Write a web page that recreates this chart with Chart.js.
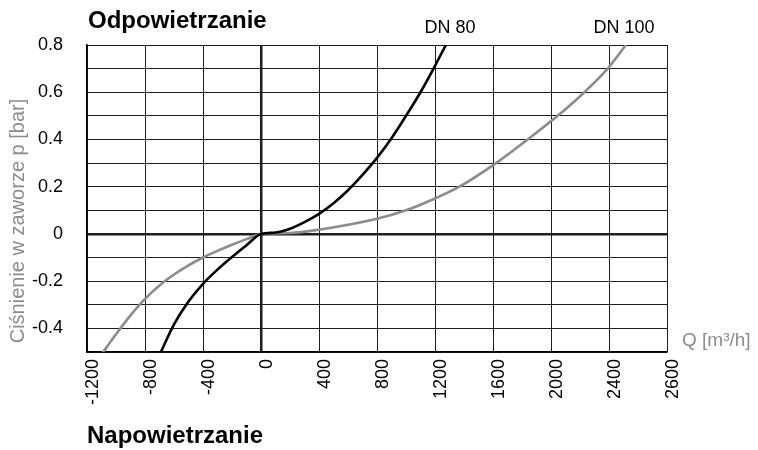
<!DOCTYPE html>
<html lang="pl">
<head>
  <meta charset="UTF-8" />
  <title>Odpowietrzanie / Napowietrzanie</title>
  <script src="https://cdn.jsdelivr.net/npm/chart.js"></script>
  <style>
    html, body { margin: 0; padding: 0; background: #fff; }
    #wykres { display: block; }
  </style>
</head>
<body>
  <canvas id="wykres" width="758" height="450"></canvas>

  <script>
    // Q [m3/h] i ciśnienie [bar]
    const dn80Q = [-700, -600, -500, -400, -300, -200, -100, 0, 100, 200, 300, 400, 500, 600, 700, 800, 900, 1000, 1100, 1200, 1300];
    const dn80P = [-0.513, -0.383, -0.286, -0.211, -0.151, -0.098, -0.048, 0, 0.006, 0.022, 0.05, 0.085, 0.13, 0.185, 0.25, 0.322, 0.405, 0.5, 0.6, 0.712, 0.83];

    const dn100Q = [-1100, -1000, -900, -800, -700, -600, -500, -400, -300, -200, -100, 0, 200, 400, 800, 1000, 1200, 1368, 1621, 1839, 2046, 2230, 2391, 2517];
    const dn100P = [-0.51, -0.425, -0.345, -0.275, -0.218, -0.172, -0.133, -0.1, -0.072, -0.046, -0.022, 0, 0.004, 0.018, 0.064, 0.1, 0.15, 0.2, 0.3, 0.4, 0.5, 0.6, 0.7, 0.8];

    const xTicks = ['-1200', '-800', '-400', '0', '400', '800', '1200', '1600', '2000', '2400', '2600'];
    const yTicks = ['0.8', '0.6', '0.4', '0.2', '0', '-0.2', '-0.4'];

    const rodzina = "'Liberation Sans', Arial, sans-serif";
    Chart.defaults.font.family = rodzina;

    // napisy poza osiami
    const napisy = {
      id: 'napisy',
      afterDraw(chart) {
        const c = chart.ctx;
        c.save();
        c.fillStyle = '#000';
        c.textBaseline = 'alphabetic';
        c.textAlign = 'left';
        c.font = 'bold 24px ' + rodzina;
        c.fillText('Odpowietrzanie', 88, 28);
        c.fillText('Napowietrzanie', 87, 443);

        c.font = '18px ' + rodzina;
        c.textAlign = 'center';
        c.fillText('DN 80', 450, 33);
        c.fillText('DN 100', 624, 33);

        c.fillStyle = '#8c8c8c';
        c.font = '19px ' + rodzina;
        c.textAlign = 'left';
        c.fillText('Q [m³/h]', 682, 346);

        c.translate(18, 221);
        c.rotate(-Math.PI / 2);
        c.textAlign = 'center';
        c.textBaseline = 'middle';
        c.font = '20px ' + rodzina;
        c.fillText('Ciśnienie w zaworze p [bar]', 0, 0);
        c.restore();
      }
    };

    const siatka = {
      color: '#1e1e1e',
      lineWidth: ctx => (ctx.tick && ctx.tick.value === 0 ? 2.5 : 1),
      drawTicks: false
    };

    new Chart(document.getElementById('wykres'), {
      type: 'line',
      data: {
        datasets: [
          {
            label: 'DN 80',
            data: dn80Q.map((q, i) => ({ x: q, y: dn80P[i] })),
            borderColor: '#000',
            borderWidth: 2.6,
            pointRadius: 0,
            cubicInterpolationMode: 'monotone',
            fill: false
          },
          {
            label: 'DN 100',
            data: dn100Q.map((q, i) => ({ x: q, y: dn100P[i] })),
            borderColor: '#8c8c8c',
            borderWidth: 2.6,
            pointRadius: 0,
            cubicInterpolationMode: 'monotone',
            fill: false
          }
        ]
      },
      options: {
        responsive: false,
        animation: false,
        layout: { padding: { left: 0, top: 45, right: 91, bottom: 38 } },
        plugins: {
          legend: { display: false },
          tooltip: { enabled: false }
        },
        scales: {
          x: {
            type: 'linear',
            min: -1200,
            max: 2800,
            afterFit: s => { s.height = 60; },
            ticks: {
              stepSize: 400,
              autoSkip: false,
              minRotation: 90,
              maxRotation: 90,
              padding: 7,
              labelOffset: 6,
              color: '#000',
              font: { size: 18 },
              callback: (v, i) => xTicks[i]
            },
            grid: siatka,
            border: { color: '#000', width: 1.5 }
          },
          y: {
            min: -0.5,
            max: 0.8,
            afterFit: s => { s.width = 87; },
            ticks: {
              stepSize: 0.1,
              autoSkip: false,
              padding: 24,
              color: '#000',
              font: { size: 18 },
              callback: v => {
                const t = yTicks.find(l => Math.abs(parseFloat(l) - v) < 1e-6);
                return t === undefined ? '' : t;
              }
            },
            grid: siatka,
            border: { color: '#000', width: 1.5 }
          }
        }
      },
      plugins: [napisy]
    });
  </script>
</body>
</html>
